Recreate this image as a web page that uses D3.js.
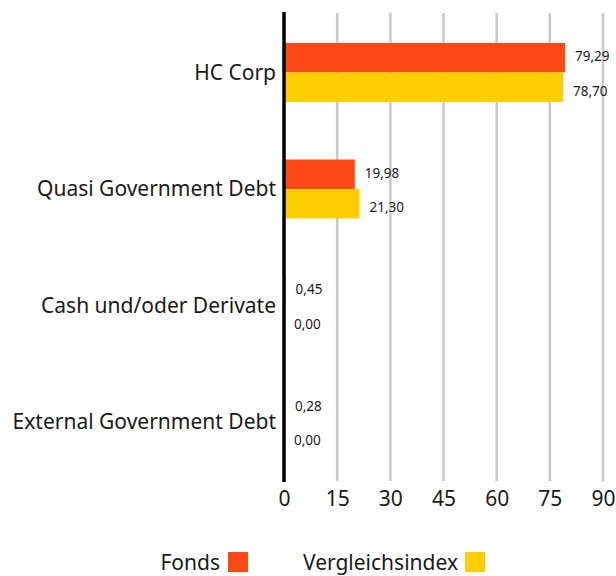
<!DOCTYPE html>
<html>
<head>
<meta charset="utf-8">
<script src="https://cdn.jsdelivr.net/npm/d3@7"></script>
<style>
  body { margin: 0; background: #fff; }
  text { font-family: "Noto Sans", sans-serif; fill: #1a1a1a; }
</style>
</head>
<body>
<div id="chart"></div>
<script>
// Data
const categories = ["HC Corp", "Quasi Government Debt", "Cash und/oder Derivate", "External Government Debt"];
const seriesNames = ["Fonds", "Vergleichsindex"];
const fondsValues = [79.29, 19.98, 0.45, 0.28];
const indexValues = [78.70, 21.30, 0.00, 0.00];
const xTicks = [0, 15, 30, 45, 60, 75, 90];
const colors = ["#fc4915", "#ffce00"];

const width = 616;
const height = 576;
const margin = { top: 14, right: 13, bottom: 95, left: 284 };

const svg = d3.select("#chart")
  .append("svg")
  .attr("width", width)
  .attr("height", height);

const rows = categories.map((c, i) => ({ cat: c, values: [fondsValues[i], indexValues[i]] }));

// Scales
const x = d3.scaleLinear()
  .domain([0, 90])
  .range([margin.left, width - margin.right]);

const y = d3.scaleBand()
  .domain(categories)
  .range([margin.top, 480.5])
  .paddingInner(0.494)
  .paddingOuter(0.249);

const y1 = d3.scaleBand()
  .domain(seriesNames)
  .range([0, y.bandwidth()]);

// Gridlines
svg.append("g")
  .selectAll("line")
  .data(xTicks.slice(1))
  .join("line")
  .attr("x1", d => x(d))
  .attr("x2", d => x(d))
  .attr("y1", 13)
  .attr("y2", 481)
  .attr("stroke", "#c8c8c8")
  .attr("stroke-width", 2.5);

// Bars
const groups = svg.append("g")
  .selectAll("g")
  .data(rows)
  .join("g")
  .attr("transform", d => "translate(0," + y(d.cat) + ")");

groups.selectAll("rect")
  .data(d => d.values.map((v, i) => ({ name: seriesNames[i], value: v, i: i })))
  .join("rect")
  .attr("x", x(0))
  .attr("y", d => y1(d.name))
  .attr("width", d => x(d.value) - x(0))
  .attr("height", y1.bandwidth())
  .attr("fill", d => colors[d.i]);

groups.selectAll("text.val")
  .data(d => d.values.map((v, i) => ({ name: seriesNames[i], value: v, i: i })))
  .join("text")
  .attr("class", "val")
  .attr("x", d => x(d.value) + 10)
  .attr("y", d => y1(d.name) + y1.bandwidth() / 2 + (d.i === 0 ? -1 : 4))
  .attr("dy", "0.35em")
  .attr("font-size", 13.5)
  .text(d => d3.format(".2f")(d.value).replace(".", ","));

// Category labels
svg.append("g")
  .selectAll("text")
  .data(categories)
  .join("text")
  .attr("x", 276)
  .attr("y", d => y(d) + y.bandwidth() / 2)
  .attr("dy", "0.35em")
  .attr("text-anchor", "end")
  .attr("font-size", 21)
  .text(d => d);

// Y axis line
svg.append("line")
  .attr("x1", x(0))
  .attr("x2", x(0))
  .attr("y1", 12)
  .attr("y2", 482)
  .attr("stroke", "#000")
  .attr("stroke-width", 3.5);

// X axis labels
const xAxis = d3.axisBottom(x).tickValues(xTicks).tickSize(0).tickPadding(0);
const gx = svg.append("g")
  .attr("transform", "translate(0,491)")
  .call(xAxis);
gx.select(".domain").remove();
gx.selectAll(".tick text")
  .attr("font-size", 21)
  .attr("dy", "0.71em")
  .style("font-family", "\"Noto Sans\", sans-serif")
  .attr("fill", "#1a1a1a");

// Legend
const legendItems = [
  { name: "Fonds", textEnd: 220, box: 228 },
  { name: "Vergleichsindex", textEnd: 458, box: 465 }
];
const legend = svg.append("g");
legend.selectAll("text")
  .data(legendItems)
  .join("text")
  .attr("x", d => d.textEnd)
  .attr("y", 563)
  .attr("dy", "0.35em")
  .attr("text-anchor", "end")
  .attr("font-size", 21)
  .text(d => d.name);
legend.selectAll("rect")
  .data(legendItems)
  .join("rect")
  .attr("x", d => d.box)
  .attr("y", 552)
  .attr("width", 20)
  .attr("height", 20)
  .attr("fill", (d, i) => colors[i]);
</script>
</body>
</html>
